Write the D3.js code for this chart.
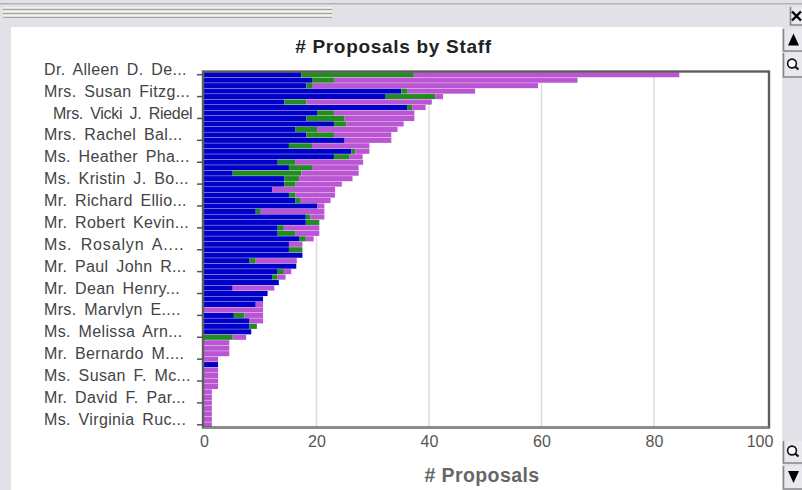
<!DOCTYPE html>
<html><head><meta charset="utf-8">
<script src="https://cdn.jsdelivr.net/npm/d3@7"></script>
<style>
html,body{margin:0;padding:0;background:#e1e1e7;overflow:hidden}
svg{display:block}
text{font-family:"Liberation Sans",Arial,sans-serif}
</style></head><body>
<svg id="c" width="802" height="490"></svg>
<script>
const staffLabels=["Dr. Alleen D. De...","Mrs. Susan Fitzg...","Mrs. Vicki J. Riedel","Mrs. Rachel Bal...","Ms. Heather Pha...","Ms. Kristin J. Bo...","Mr. Richard Ellio...","Mr. Robert Kevin...","Ms. Rosalyn A....","Mr. Paul John R...","Mr. Dean Henry...","Mrs. Marvlyn E....","Ms. Melissa Arn...","Mr. Bernardo M....","Ms. Susan F. Mc...","Mr. David F. Par...","Ms. Virginia Ruc..."];
const blueValues=[17.3,19.2,18.2,35.1,32.3,14.3,36.1,20.1,18.2,23.1,16.2,18.2,25,15.1,26.2,23.1,13.1,15.1,5.1,14.3,14.3,12.1,15.1,16.2,20.1,9.2,18.1,18.1,13.1,13.1,16.9,15.1,15.1,17.5,8.1,16.4,13.1,12.1,13.3,5.1,11.3,10.5,9.2,0,5.3,8.1,8.1,8.4,0,0,0,0,0,2.5,0,0,0,0,0,0,0,0,0,0,0];
const greenValues=[20,3.9,1,1,8.8,3.9,0.9,3,6.8,2.2,3.9,4.9,0,4.1,0.7,2.8,3.1,4.1,12.2,2.6,2,0,1.1,1,0,0.9,0.8,2.4,1.1,3.1,1.2,0,2.4,0,1.1,0,1.1,1,0,0,0,0,0,0,1.9,0,1.3,0,5.1,0,0,0,0,0,0,0,0,0,0,0,0,0,0,0,0];
const purpleValues=[47.2,43.3,40.2,12.1,1.4,22.3,2.4,14.3,12.4,10.2,14.3,10.2,8.3,10.2,2.5,2.3,12.1,8.3,10.2,9.5,8.2,11.2,7.1,5.3,1.3,11.3,2.5,0,6.3,4.3,1.4,2.4,0,0,7.3,0,1.3,1.4,0,7.4,0,0,1.3,10.5,3.3,2.4,0,0,2.4,4.5,4.5,4.5,2.5,0,2.5,2.5,2.5,2.5,1.4,1.4,1.4,1.4,1.4,1.4,1.4];
const xTicks=[0,20,40,60,80,100];
const rowIds=d3.range(blueValues.length);
const table=rowIds.map(i=>({row:i,blue:blueValues[i],green:greenValues[i],purple:purpleValues[i]}));
const seriesKeys=["blue","green","purple"];
const seriesColors=d3.scaleOrdinal(seriesKeys,["#0000c8","#228b22","#ba55d3"]);

const svg=d3.select("#c");
// window chrome
svg.append("rect").attr("x",0).attr("y",3).attr("width",802).attr("height",1.5).attr("fill","#b4b4b8");
[[7.5,"#f4f2e2"],[9.5,"#a4a49c"],[11.5,"#f4f2e2"],[13.5,"#a4a49c"],[15.5,"#f4f2e2"],[17.5,"#a4a49c"]].forEach(([y,c])=>
  svg.append("line").attr("x1",3).attr("x2",332).attr("y1",y).attr("y2",y).attr("stroke",c).attr("stroke-width",1));
svg.append("rect").attr("x",11).attr("y",27).attr("width",771).attr("height",463).attr("fill","#fff");

function btn(y,h,kind,x=783,w=19){
  const g=svg.append("g");
  g.append("rect").attr("x",x).attr("y",y).attr("width",w).attr("height",h).attr("fill","#e8e8ee");
  g.append("path").attr("d",`M${x+.5},${y}V${y+h}H${x+w}`).attr("fill","none").attr("stroke","#85858a").attr("stroke-width",1.6);
  const cx=x+w/2+1,cy=y+h/2-.5;
  if(kind==="up")g.append("path").attr("d",`M${cx-5.5},${cy+6}L${cx},${cy-6}L${cx+5.5},${cy+6}Z`).attr("fill","#000");
  if(kind==="down")g.append("path").attr("d",`M${cx-5.5},${cy-6}L${cx},${cy+6}L${cx+5.5},${cy-6}Z`).attr("fill","#000");
  if(kind==="zoom"){g.append("circle").attr("cx",cx-1.5).attr("cy",cy-1).attr("r",4.4).attr("fill","#fff").attr("stroke","#111").attr("stroke-width",1.6);
    g.append("line").attr("x1",cx+1.5).attr("y1",cy+2).attr("x2",cx+5).attr("y2",cy+5).attr("stroke","#111").attr("stroke-width",2.2);}
  if(kind==="x"){g.append("path").attr("d",`M${cx-5},${cy-4}L${cx+4},${cy+5}M${cx+4},${cy-4}L${cx-5},${cy+5}`).attr("stroke","#000").attr("stroke-width",2.4);}
}
btn(7,18,"x",790,12);btn(29,22,"up");btn(53,24,"zoom");btn(441,22,"zoom");btn(466,23,"down");

// scales
const x=d3.scaleLinear().domain([0,100]).range([204,766.5]);
const y=d3.scaleBand().domain(rowIds).range([72,427.5]).paddingInner(0.07).paddingOuter(0.03);
const blur=svg.append("defs").append("filter").attr("id","soft").attr("x","-2%").attr("y","-2%").attr("width","104%").attr("height","104%");
blur.append("feGaussianBlur").attr("stdDeviation",0.5);

// gridlines
svg.append("g").selectAll("line").data(xTicks.filter(t=>t>0&&t<100)).join("line")
 .attr("x1",d=>x(d)).attr("x2",d=>x(d)).attr("y1",72).attr("y2",427).attr("stroke","#dcdcdc").attr("stroke-width",1.5);

// bars
const stacked=d3.stack().keys(seriesKeys)(table);
svg.append("g").attr("filter","url(#soft)").selectAll("g").data(stacked).join("g").attr("fill",d=>seriesColors(d.key))
 .selectAll("rect").data(d=>d.filter(v=>v[1]>v[0])).join("rect")
 .attr("x",d=>x(d[0])).attr("width",d=>x(d[1])-x(d[0]))
 .attr("y",d=>y(d.data.row)).attr("height",y.bandwidth());

// frame
const frame=svg.append("g").attr("filter","url(#soft)");
frame.append("rect").attr("x",203).attr("y",71.5).attr("width",566).attr("height",356).attr("fill","none").attr("stroke","#5e5e5e").attr("stroke-width",2.4);
frame.append("line").attr("x1",203).attr("x2",769).attr("y1",428).attr("y2",428).attr("stroke","#8a8a8a").attr("stroke-width",2);

// axes
const xAxis=d3.axisBottom(x).tickValues(xTicks).tickSize(0).tickPadding(7);
const gx=svg.append("g").attr("transform","translate(0,429)").call(xAxis);
gx.select(".domain").remove();
gx.selectAll("text").attr("fill","#555").attr("font-size",16).attr("font-family",'"Liberation Sans",Arial,sans-serif')
  .attr("x",d=>d===100?-7:0);

const labelRows=rowIds.filter(i=>i%4===0);
const rowMid=i=>y(i)+y.bandwidth()/2;
svg.append("g").selectAll("line").data(labelRows).join("line")
 .attr("x1",197).attr("x2",203).attr("y1",rowMid).attr("y2",rowMid).attr("stroke","#555").attr("stroke-width",1.5);
const fitted={2:140,8:140};
svg.append("g").selectAll("text").data(labelRows).join("text")
 .attr("x",(d,i)=>i===2?53:44).attr("y",d=>rowMid(d)-5.5).attr("dy","0.35em")
 .attr("font-size",16).attr("fill","#444").style("word-spacing","3px").style("letter-spacing","0.35px")
 .each(function(d,i){ if(fitted[i]) d3.select(this).attr("textLength",fitted[i]).attr("lengthAdjust","spacing"); })
 .text((d,i)=>staffLabels[i]);

svg.append("text").attr("x",393.5).attr("y",53).attr("text-anchor","middle").attr("font-size",19).attr("font-weight","bold").attr("fill","#222").style("letter-spacing","0.7px").text("# Proposals by Staff");
svg.append("text").attr("x",482).attr("y",482).attr("text-anchor","middle").attr("font-size",19.5).attr("font-weight","bold").attr("fill","#666").style("letter-spacing","0.4px").text("# Proposals");
</script>
</body></html>
